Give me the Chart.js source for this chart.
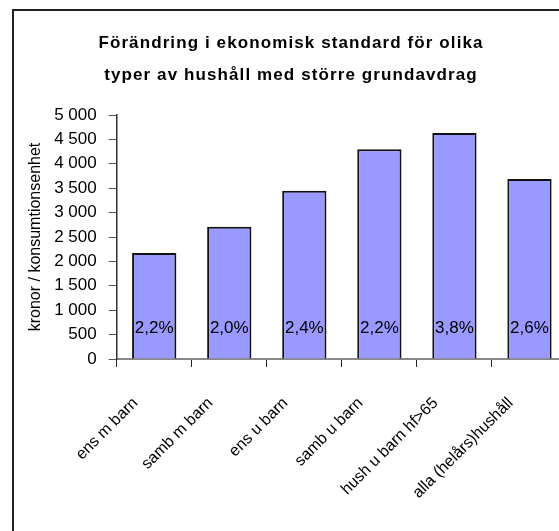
<!DOCTYPE html>
<html>
<head>
<meta charset="utf-8">
<script src="https://cdn.jsdelivr.net/npm/chart.js@4/dist/chart.umd.min.js"></script>
<style>
  html, body { margin: 0; padding: 0; background: #fff; overflow: hidden; }
  #wrap { position: absolute; left: 0; top: 0; width: 620px; height: 560px; }
</style>
</head>
<body>
<div id="wrap"><canvas id="mycanvas" width="620" height="560"></canvas></div>
<script>
// household types
var categories = ['ens m barn', 'samb m barn', 'ens u barn', 'samb u barn', 'hush u barn hf>65', 'alla (helårs)hushåll'];
// kronor per konsumtionsenhet
var values = [2170, 2710, 3450, 4300, 4630, 3690];
// percent change written inside each bar
var pctLabels = ['2,2%', '2,0%', '2,4%', '2,2%', '3,8%', '2,6%'];
var yTicks = [0, 500, 1000, 1500, 2000, 2500, 3000, 3500, 4000, 4500, 5000];
var titleLines = ['Förändring i ekonomisk standard för olika', 'typer av hushåll med större grundavdrag'];

var FONT = "'Liberation Sans', Arial, sans-serif";

function fmt(v){
    if(v >= 1000){
        return Math.floor(v / 1000) + ' ' + String(v % 1000).padStart(3, '0');
    }
    return String(v);
}

// outer frame + title (title needs letter spacing, so drawn here)
var framePlugin = {
    id: 'frame',
    beforeDraw: function(chart){
        var ctx = chart.ctx;
        ctx.save();
        ctx.fillStyle = '#fff';
        ctx.fillRect(0, 0, chart.width, chart.height);
        ctx.strokeStyle = '#222';
        ctx.lineWidth = 2;
        ctx.strokeRect(13, 10, chart.width, chart.height);

        ctx.font = 'bold 17px ' + FONT;
        ctx.fillStyle = '#000';
        ctx.textAlign = 'center';
        ctx.textBaseline = 'middle';
        if('letterSpacing' in ctx){ ctx.letterSpacing = '1.1px'; }
        ctx.fillText(titleLines[0], 291, 43);
        ctx.fillText(titleLines[1], 291, 75);
        ctx.restore();
    }
};

// percent labels inside the bars
var pctPlugin = {
    id: 'pct',
    afterDatasetsDraw: function(chart){
        var ctx = chart.ctx;
        var meta = chart.getDatasetMeta(0);
        var y = chart.scales.y.getPixelForValue(630);
        ctx.save();
        ctx.font = '17px ' + FONT;
        ctx.fillStyle = '#000';
        ctx.textAlign = 'center';
        ctx.textBaseline = 'middle';
        for(var i = 0; i < meta.data.length; i++){
            ctx.fillText(pctLabels[i], meta.data[i].x, y);
        }
        ctx.restore();
    }
};

var chartData = {
    labels: categories,
    datasets: [
        {
            label: 'kronor / konsumtionsenhet',
            backgroundColor: '#9999FF',
            borderColor: '#111',
            borderWidth: 2,
            borderSkipped: 'bottom',
            categoryPercentage: 1.0,
            barPercentage: 0.59,
            data: values
        }
    ]
};

var ctx = document.getElementById('mycanvas');

var barGraph = new Chart(ctx, {
    type: 'bar',
    data: chartData,
    plugins: [framePlugin, pctPlugin],
    options: {
        responsive: false,
        animation: false,
        layout: { padding: { left: 12, right: 53, top: 115, bottom: 0 } },
        plugins: {
            legend: { display: false },
            tooltip: { enabled: false },
            title: { display: false }
        },
        scales: {
            x: {
                grid: { display: true, drawOnChartArea: false, offset: true, tickLength: 8, color: '#222' },
                border: { display: true, color: '#888', width: 2 },
                ticks: {
                    color: '#000',
                    font: { family: FONT, size: 16 },
                    minRotation: 45,
                    maxRotation: 45,
                    autoSkip: false,
                    padding: 8,
                    // trailing spaces push the rotated label down-left like Excel does
                    callback: function(v, i){ return categories[i] + '      '; }
                },
                afterFit: function(scale){ scale.height = 201; }
            },
            y: {
                min: 0,
                max: 5000,
                afterBuildTicks: function(scale){
                    scale.ticks = yTicks.map(function(v){ return { value: v }; });
                },
                grid: { display: true, drawOnChartArea: false, tickLength: 8, color: '#555' },
                border: { display: true, color: '#333', width: 1.5 },
                ticks: {
                    color: '#000',
                    font: { family: FONT, size: 17 },
                    padding: 12,
                    callback: function(v){ return fmt(v); }
                },
                title: {
                    display: true,
                    text: 'kronor / konsumtionsenhet',
                    color: '#000',
                    font: { family: FONT, size: 16 },
                    padding: { top: 14, bottom: 0 }
                },
                afterFit: function(scale){ scale.width = 104.7; }
            }
        }
    }
});
</script>
</body>
</html>
